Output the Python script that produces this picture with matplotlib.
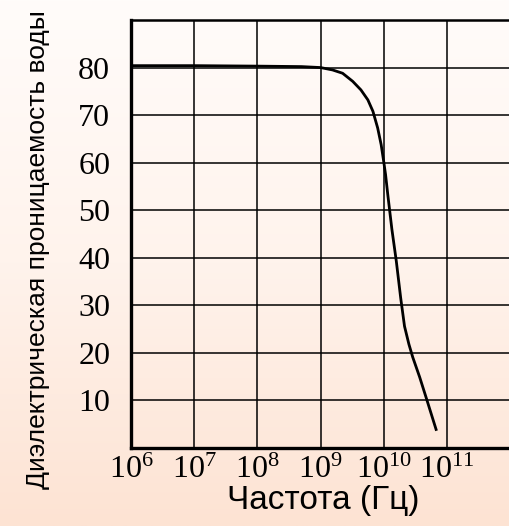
import matplotlib.pyplot as plt
import matplotlib.colors as mcolors
import numpy as np

plt.rcParams.update({
    "mathtext.fontset": "custom",
    "mathtext.rm": "Liberation Serif",
    "mathtext.it": "Liberation Serif",
})

# data: log10 of frequency and permittivity
log_freq = [6.0, 7.0, 8.0, 8.7, 9.0, 9.19, 9.35, 9.51, 9.64, 9.75, 9.83, 9.905,
            9.96, 10.0, 10.03, 10.065, 10.13, 10.2, 10.27, 10.33, 10.4, 10.46,
            10.57, 10.67, 10.83]
eps = [80.4, 80.4, 80.3, 80.2, 80.0, 79.5, 78.8, 77.1, 75.3, 73.2, 70.8, 67.3,
       63.8, 60.3, 57.5, 53.3, 46.0, 39.3, 31.5, 25.6, 21.8, 19.1,
       14.9, 10.7, 3.9]
y_ticks = [10, 20, 30, 40, 50, 60, 70, 80]
x_decades = [6, 7, 8, 9, 10, 11]

freq = [10 ** v for v in log_freq]

fig = plt.figure(figsize=(5.10, 5.26), dpi=100)

# soft vertical gradient background
bg = fig.add_axes([0, 0, 1, 1], zorder=-10)
cmap = mcolors.LinearSegmentedColormap.from_list("bg", ["#fffcfa", "#fff3ec", "#fde3d3"])
grad = np.linspace(0, 1, 256).reshape(-1, 1)
bg.imshow(grad, aspect="auto", cmap=cmap, extent=[0, 1, 0, 1], origin="upper")
bg.axis("off")

ax = fig.add_axes([131 / 510, 1 - 448 / 526, 1 - 131 / 510, (448 - 20) / 526])
ax.patch.set_alpha(0)
ax.set_xscale("log")
ax.set_xlim(1e6, 1e12)
ax.set_ylim(0, 90)

ax.plot(freq, eps, color="black", linewidth=2.0, zorder=3)

ax.set_xticks([10 ** d for d in x_decades])
ax.set_xticklabels([r"$10^{%d}$" % d for d in x_decades], fontsize=23)
ax.xaxis.set_minor_locator(plt.NullLocator())
ax.set_yticks(y_ticks)
ax.set_yticklabels([str(v) for v in y_ticks], fontsize=23, family="Liberation Serif")
ax.tick_params(axis="y", length=0, pad=15)
ax.tick_params(axis="x", length=0, pad=4)

ax.grid(True, color="black", linewidth=1.1)
ax.axvline(1e12, color="black", linewidth=1.1)

ax.spines["left"].set_linewidth(2.4)
ax.spines["bottom"].set_linewidth(2.4)
ax.spines["top"].set_linewidth(1.8)
ax.spines["right"].set_visible(False)

fig.text(323 / 510, 1 - 500 / 526, "Частота (Гц)", fontsize=24,
         family="Liberation Sans", ha="center", va="center")
fig.text(38 / 510, 1 - 250 / 526, "Диэлектрическая проницаемость воды", fontsize=19,
         family="Liberation Sans", rotation=90, ha="center", va="center")

fig.savefig("out.png", dpi=100)
